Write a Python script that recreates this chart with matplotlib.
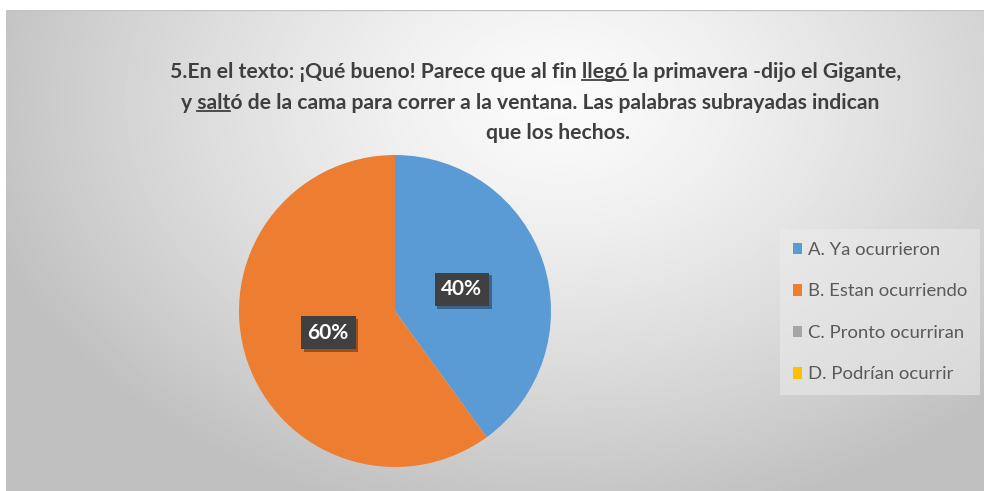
import numpy as np
import matplotlib
matplotlib.use("Agg")
import matplotlib.pyplot as plt
import matplotlib.patheffects as pe
from matplotlib.patches import Patch

# datos
categorias = ["A. Ya ocurrieron", "B. Estan ocurriendo", "C. Pronto ocurriran", "D. Podrían ocurrir"]
porcentajes = [40, 60, 0, 0]
colores = ["#5B9BD5", "#ED7D31", "#A5A5A5", "#FFC000"]

lineas_titulo = [
    "5.En el texto: ¡Qué bueno! Parece que al fin llegó la primavera -dijo el Gigante,",
    "y saltó de la cama para correr a la ventana. Las palabras subrayadas indican",
    "que los hechos.",
]
# (linea, texto antes, palabra subrayada)
subrayados = [(0, "5.En el texto: ¡Qué bueno! Parece que al fin ", "llegó"),
              (1, "y ", "salt")]

W, H = 984, 491
TAM_TITULO = 15.2
fig = plt.figure(figsize=(W / 100, H / 100), dpi=100)
fig.patch.set_facecolor("white")

# fondo con degradado radial (estilo Excel)
bg = fig.add_axes([6 / W, 0, 1 - 6 / W, (H - 10) / H])
bg.set_axis_off()
xx, yy = np.meshgrid(np.linspace(6, W, 400), np.linspace(10, H, 200))
d = np.sqrt(((xx - 560) / 600) ** 2 + ((yy - 100) / 430) ** 2)
d = np.clip(d, 0, 1)
gris = (251 - (251 - 192) * d ** 1.3) / 255
bg.imshow(gris, cmap="gray", vmin=0, vmax=1, extent=[6, W, H, 10], aspect="auto")
bg.set_xlim(6, W)
bg.set_ylim(H, 10)
bg.plot([6, W], [10.5, 10.5], color="#c4c4c4", lw=1)

# pastel
cx, cy, r = 395, 311, 156
ax = fig.add_axes([(cx - r) / W, (H - cy - r) / H, 2 * r / W, 2 * r / H])
wedges, _, autotexts = ax.pie(
    porcentajes, colors=colores, startangle=90, counterclock=False,
    autopct=lambda p: f"{p:.0f}%" if p > 0 else "", pctdistance=0.45,
    wedgeprops=dict(linewidth=0),
)
ax.set_xlim(-1, 1)
ax.set_ylim(-1, 1)
ax.set_aspect("equal")
for t in autotexts:
    t.set_color("white")
    t.set_fontsize(15)
    t.set_fontweight("bold")
    t.set_family("Lato")
    t.set_bbox(dict(boxstyle="square,pad=0.32", facecolor="#404040", edgecolor="none"))
    t.get_bbox_patch().set_path_effects([
        pe.SimplePatchShadow(offset=(2, -2), shadow_rgbFace="black", alpha=0.35),
        pe.Normal()])

# leyenda
handles = [Patch(facecolor=c, edgecolor="none") for c in colores]
leg = fig.legend(handles, categorias, loc="upper left",
                 bbox_to_anchor=(780 / W, 1 - 229 / H),
                 frameon=True, fancybox=False,
                 handlelength=0.5, handleheight=0.6, handletextpad=0.3,
                 labelspacing=1.38, borderpad=0.7, borderaxespad=0,
                 prop={"family": "Lato", "size": 13.3})
leg.get_frame().set_facecolor("#ececec")
leg.get_frame().set_alpha(0.55)
leg.get_frame().set_edgecolor("none")
for txt in leg.get_texts():
    txt.set_color("#595959")

# titulo
centros = [536, 530, 558]
ys = [72, 103, 133]
textos = []
for linea, xc, yc in zip(lineas_titulo, centros, ys):
    t = fig.text(xc / W, 1 - yc / H, linea, ha="center", va="center",
                 fontsize=TAM_TITULO, fontweight="bold", family="Lato", color="#3f3f3f")
    textos.append(t)

fig.canvas.draw()
ren = fig.canvas.get_renderer()


def ancho(s):
    tmp = fig.text(0, 0, s, fontsize=TAM_TITULO, fontweight="bold", family="Lato")
    w = tmp.get_window_extent(ren).width
    tmp.remove()
    return w


for i, antes, palabra in subrayados:
    ext = textos[i].get_window_extent(ren)
    x0 = ext.x0 + ancho(antes.rstrip()) + (ancho(antes + "x") - ancho(antes.rstrip() + "x"))
    x1 = ext.x0 + ancho(antes + palabra)
    yb = ext.y0 + 2
    fig.add_artist(plt.Line2D([x0 / W, x1 / W], [yb / H, yb / H], color="#3f3f3f", lw=1.3))

fig.savefig("out.png", dpi=100)
